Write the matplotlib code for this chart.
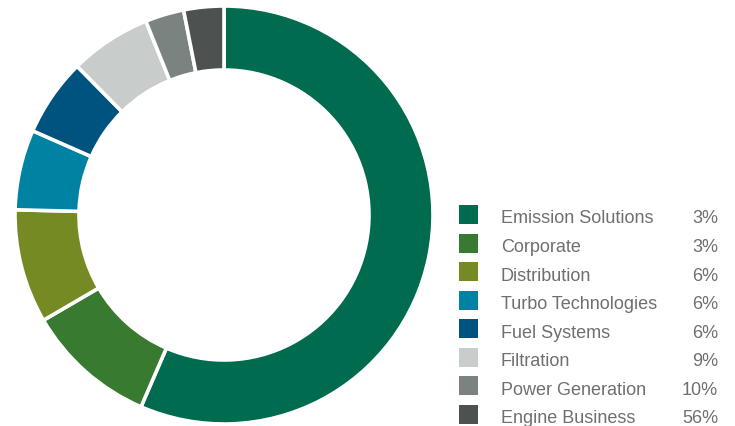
import matplotlib.pyplot as plt
from matplotlib.patches import Rectangle

# segment names (legend order) and slice sizes read from the ring
segments = ["Emission Solutions", "Corporate", "Distribution", "Turbo Technologies",
            "Fuel Systems", "Filtration", "Power Generation", "Engine Business"]
slice_pct = [56.5, 10.1, 8.8, 6.2, 6.0, 6.3, 3.0, 3.1]
legend_pct = ["3%", "3%", "6%", "6%", "6%", "9%", "10%", "56%"]
colors = ["#006b4f", "#387a30", "#758a23", "#0083a3",
          "#00527f", "#c8cdcc", "#7a8380", "#4d5250"]

W, H = 735, 427
fig = plt.figure(figsize=(W / 100, H / 100), dpi=100)

# donut: center (224, 216) px, outer radius 209 px
cx, cy, R = 224, 216, 209
lim = 1.03
half = R * lim
ax = fig.add_axes([(cx - half) / W, (H - cy - half) / H, 2 * half / W, 2 * half / H])
ax.pie(slice_pct, colors=colors, startangle=90, counterclock=False,
       wedgeprops=dict(width=64 / R, edgecolor="white", linewidth=2.6))
ax.set_xlim(-lim, lim)
ax.set_ylim(-lim, lim)
ax.set_aspect("equal")
ax.axis("off")

# legend drawn in pixel coordinates
lg = fig.add_axes([0, 0, 1, 1])
lg.set_xlim(0, W)
lg.set_ylim(H, 0)
lg.axis("off")
y0, dy, sq = 215.5, 28.57, 19
for i, (name, pct, col) in enumerate(zip(segments, legend_pct, colors)):
    y = y0 + i * dy
    lg.add_patch(Rectangle((459, y - sq / 2), sq, sq, color=col, lw=0))
    lg.text(501, y + 8, name, fontsize=13, family="Liberation Sans",
            color="#6d6f70", va="baseline", ha="left")
    lg.text(718, y + 8, pct, fontsize=13, family="Liberation Sans",
            color="#6d6f70", va="baseline", ha="right")

plt.savefig("out.png", dpi=100)
